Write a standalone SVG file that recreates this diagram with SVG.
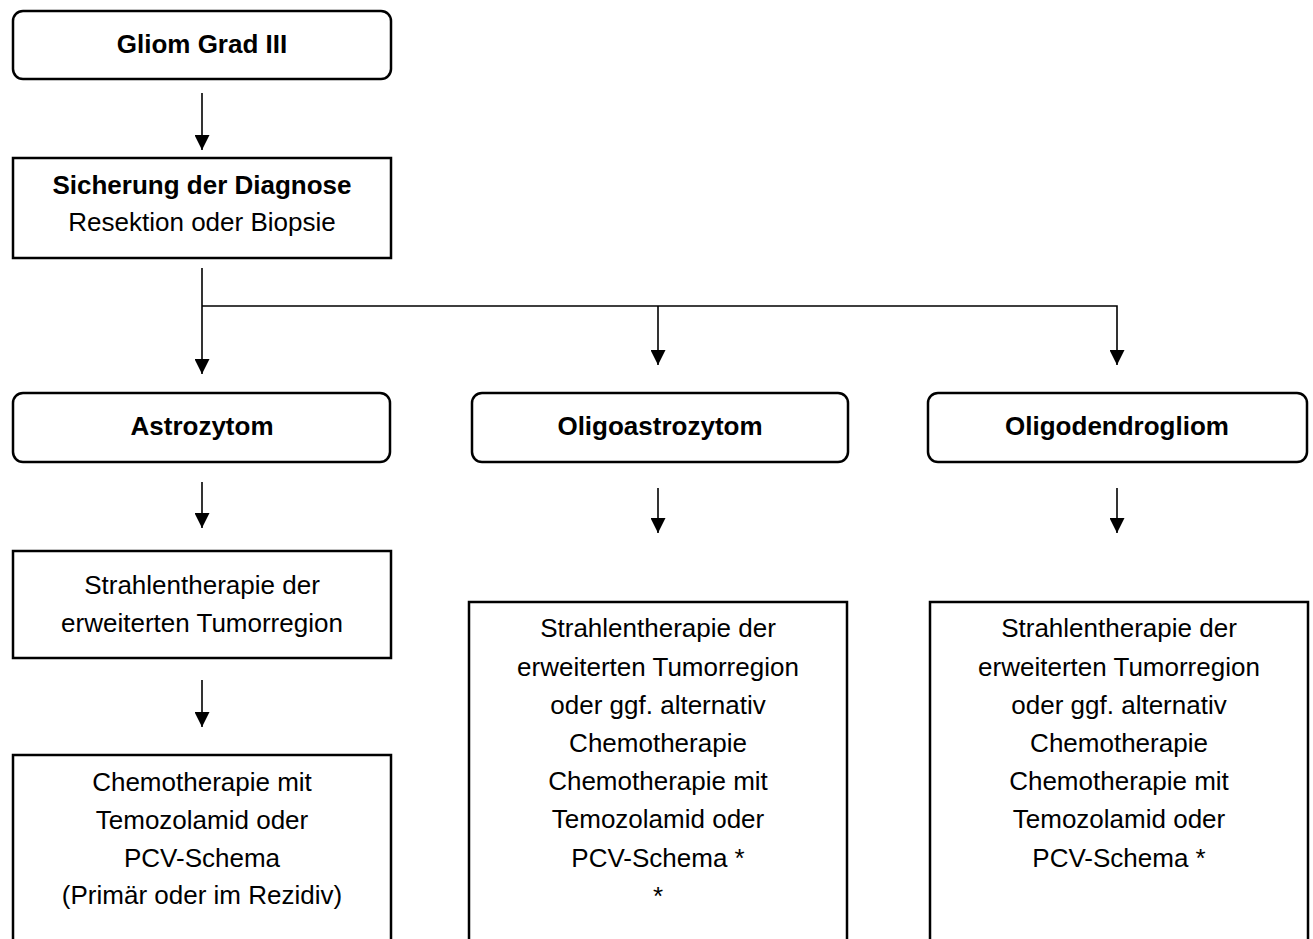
<svg xmlns="http://www.w3.org/2000/svg" width="1313" height="939" viewBox="0 0 1313 939">
<style>
.box{fill:#fff;stroke:#000;stroke-width:2.5}
.t{font-family:"Liberation Sans",Arial,sans-serif;font-size:26px;fill:#000;text-anchor:middle}
.b{font-weight:bold}
.c{fill:none;stroke:#000;stroke-width:1.6}
</style>
<defs>
<marker id="ah" markerUnits="userSpaceOnUse" markerWidth="15" markerHeight="15" refX="15" refY="7.5" orient="auto">
<path d="M0,0 L15,7.5 L0,15 z" fill="#000"/>
</marker>
</defs>
<rect width="1313" height="939" fill="#fff"/>
<g id="connectors">
<line class="c" x1="202" y1="93" x2="202" y2="150" marker-end="url(#ah)"/>
<line class="c" x1="202" y1="268" x2="202" y2="374" marker-end="url(#ah)"/>
<polyline class="c" points="202,306 1117,306 1117,365" marker-end="url(#ah)"/>
<line class="c" x1="658" y1="306" x2="658" y2="365" marker-end="url(#ah)"/>
<line class="c" x1="202" y1="482" x2="202" y2="528" marker-end="url(#ah)"/>
<line class="c" x1="658" y1="488" x2="658" y2="533" marker-end="url(#ah)"/>
<line class="c" x1="1117" y1="488" x2="1117" y2="533" marker-end="url(#ah)"/>
<line class="c" x1="202" y1="680" x2="202" y2="727" marker-end="url(#ah)"/>
</g>
<g id="gliom">
<rect class="box" x="13" y="11" width="378" height="68" rx="10"/>
<text class="t b" x="202" y="53">Gliom Grad III</text>
</g>
<g id="diagnose">
<rect class="box" x="13" y="158" width="378" height="100"/>
<text class="t b" x="202" y="194">Sicherung der Diagnose</text>
<text class="t" x="202" y="231">Resektion oder Biopsie</text>
</g>
<g id="astrozytom">
<rect class="box" x="13" y="393" width="377" height="69" rx="10"/>
<text class="t b" x="202" y="435">Astrozytom</text>
</g>
<g id="oligoastrozytom">
<rect class="box" x="472" y="393" width="376" height="69" rx="10"/>
<text class="t b" x="660" y="435">Oligoastrozytom</text>
</g>
<g id="oligodendrogliom">
<rect class="box" x="928" y="393" width="379" height="69" rx="10"/>
<text class="t b" x="1117" y="435">Oligodendrogliom</text>
</g>
<g id="astro-strahlen">
<rect class="box" x="13" y="551" width="378" height="107"/>
<text class="t" x="202" y="594">Strahlentherapie der</text>
<text class="t" x="202" y="632">erweiterten Tumorregion</text>
</g>
<g id="astro-chemo">
<rect class="box" x="13" y="755" width="378" height="220"/>
<text class="t" x="202" y="791">Chemotherapie mit</text>
<text class="t" x="202" y="829">Temozolamid oder</text>
<text class="t" x="202" y="867">PCV-Schema</text>
<text class="t" x="202" y="904">(Primär oder im Rezidiv)</text>
</g>
<g id="oligoastro-therapie">
<rect class="box" x="469" y="602" width="378" height="380"/>
<text class="t" x="658" y="637">Strahlentherapie der</text>
<text class="t" x="658" y="676">erweiterten Tumorregion</text>
<text class="t" x="658" y="714">oder ggf. alternativ</text>
<text class="t" x="658" y="752">Chemotherapie</text>
<text class="t" x="658" y="790">Chemotherapie mit</text>
<text class="t" x="658" y="828">Temozolamid oder</text>
<text class="t" x="658" y="867">PCV-Schema *</text>
<text class="t" x="658" y="905">*</text>
</g>
<g id="oligodendro-therapie">
<rect class="box" x="930" y="602" width="378" height="380"/>
<text class="t" x="1119" y="637">Strahlentherapie der</text>
<text class="t" x="1119" y="676">erweiterten Tumorregion</text>
<text class="t" x="1119" y="714">oder ggf. alternativ</text>
<text class="t" x="1119" y="752">Chemotherapie</text>
<text class="t" x="1119" y="790">Chemotherapie mit</text>
<text class="t" x="1119" y="828">Temozolamid oder</text>
<text class="t" x="1119" y="867">PCV-Schema *</text>
</g>
</svg>
